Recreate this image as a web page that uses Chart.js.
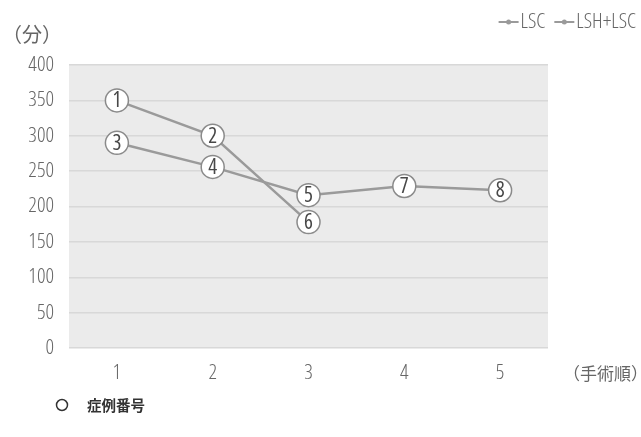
<!DOCTYPE html>
<html>
<head>
<meta charset="utf-8">
<script src="https://cdn.jsdelivr.net/npm/chart.js@4.4.1/dist/chart.umd.min.js"></script>
<style>
html,body{margin:0;padding:0;background:#fff;}
#wrap{width:641px;height:437px;position:relative;}
</style>
</head>
<body>
<div id="wrap"><canvas id="c" width="641" height="437"></canvas></div>
<script>
// ---- data ----
const categories = ['1', '2', '3', '4', '5'];
const seriesNames = ['LSC', 'LSH+LSC'];
const lscValues = [350, 300, 178, null, null];
const lshLscValues = [290, 256, 216, 229, 223];
const lscCaseNumbers = ['1', '2', '6'];
const lshLscCaseNumbers = ['3', '4', '5', '7', '8'];
const yTicks = [0, 50, 100, 150, 200, 250, 300, 350, 400];
const yTitle = '（分）';
const xTitle = '（手術順）';
const noteText = '症例番号';

const LINE = '#9a9a9a';
const TEXT = '#666666';
const NUMFAM = '"Open Sans", sans-serif';
const NARROW = 'normal 300 condensed ';
const CJK = '"Noto Sans CJK JP", sans-serif';

const caseNumbers = [lscCaseNumbers, lshLscCaseNumbers];

const decor = {
  id: 'decor',
  beforeDraw(chart) {
    const {ctx, chartArea: a} = chart;
    ctx.save();
    ctx.fillStyle = '#ebebeb';
    ctx.fillRect(a.left, a.top, a.right - a.left, a.bottom - a.top);
    ctx.restore();
  },
  afterDatasetsDraw(chart) {
    const ctx = chart.ctx;
    ctx.save();
    ctx.fillStyle = '#484848';
    ctx.font = 'normal 400 condensed 21px ' + NUMFAM;
    ctx.textAlign = 'center';
    ctx.textBaseline = 'middle';
    chart.data.datasets.forEach((ds, di) => {
      const meta = chart.getDatasetMeta(di);
      let k = 0;
      meta.data.forEach((pt, i) => {
        if (ds.data[i] === null) return;
        ctx.fillText(caseNumbers[di][k++], pt.x, pt.y + 1);
      });
    });
    ctx.restore();
  },
  afterDraw(chart) {
    const ctx = chart.ctx;
    ctx.save();
    ctx.fillStyle = TEXT;
    ctx.textBaseline = 'middle';
    // y title
    ctx.font = '20px ' + CJK;
    ctx.textAlign = 'left';
    ctx.fillText(yTitle, 2, 34);
    // x title
    ctx.font = '17px ' + CJK;
    ctx.fillText(xTitle, 563, 374);
    // legend (right-aligned to x = 636)
    ctx.font = NARROW + '21px ' + NUMFAM;
    const symW = 20, gapT = 2, gapI = 9;
    const widths = seriesNames.map(s => ctx.measureText(s).width);
    let total = widths.reduce((a, w) => a + symW + gapT + w, 0) + gapI * (seriesNames.length - 1);
    let x = 636 - total;
    seriesNames.forEach((name, i) => {
      ctx.strokeStyle = LINE;
      ctx.lineWidth = 2;
      ctx.beginPath();
      ctx.moveTo(x, 22);
      ctx.lineTo(x + symW, 22);
      ctx.stroke();
      ctx.fillStyle = LINE;
      ctx.beginPath();
      ctx.arc(x + symW / 2, 22, 2.5, 0, Math.PI * 2);
      ctx.fill();
      ctx.fillStyle = TEXT;
      ctx.fillText(name, x + symW + gapT, 22);
      x += symW + gapT + widths[i] + gapI;
    });
    // note
    ctx.fillStyle = '#333';
    ctx.strokeStyle = '#333';
    ctx.lineWidth = 1.5;
    ctx.beginPath();
    ctx.arc(62, 405, 5.5, 0, Math.PI * 2);
    ctx.stroke();
    ctx.font = 'bold 14.5px ' + CJK;
    ctx.fillText(noteText, 87, 405);
    ctx.restore();
  }
};

const tickFont = {family: NUMFAM, size: 21, style: 'normal', weight: '300 condensed'};

new Chart(document.getElementById('c'), {
  type: 'line',
  data: {
    labels: categories,
    datasets: [
      {label: seriesNames[0], data: lscValues},
      {label: seriesNames[1], data: lshLscValues}
    ].map(d => Object.assign(d, {
      borderColor: LINE,
      borderWidth: 2.5,
      pointRadius: 11.5,
      pointBackgroundColor: '#ffffff',
      pointBorderColor: '#8a8a8a',
      pointBorderWidth: 1.5,
      tension: 0,
      spanGaps: false
    }))
  },
  options: {
    responsive: false,
    animation: false,
    events: [],
    layout: {padding: {top: 65, right: 93, bottom: 0, left: 0}},
    plugins: {legend: {display: false}, tooltip: {enabled: false}},
    scales: {
      x: {
        offset: true,
        grid: {display: false, drawTicks: false},
        border: {display: false},
        ticks: {color: TEXT, font: tickFont, padding: 12},
        afterFit(s) { s.height = 89; }
      },
      y: {
        min: 0, max: 400,
        afterBuildTicks(s) { s.ticks = yTicks.map(v => ({value: v})); },
        grid: {color: '#d8d8d8', lineWidth: 1.5, drawTicks: false},
        border: {display: false},
        ticks: {color: TEXT, font: tickFont, padding: 15},
        afterFit(s) { s.width = 69; }
      }
    }
  },
  plugins: [decor]
});
</script>
</body>
</html>
